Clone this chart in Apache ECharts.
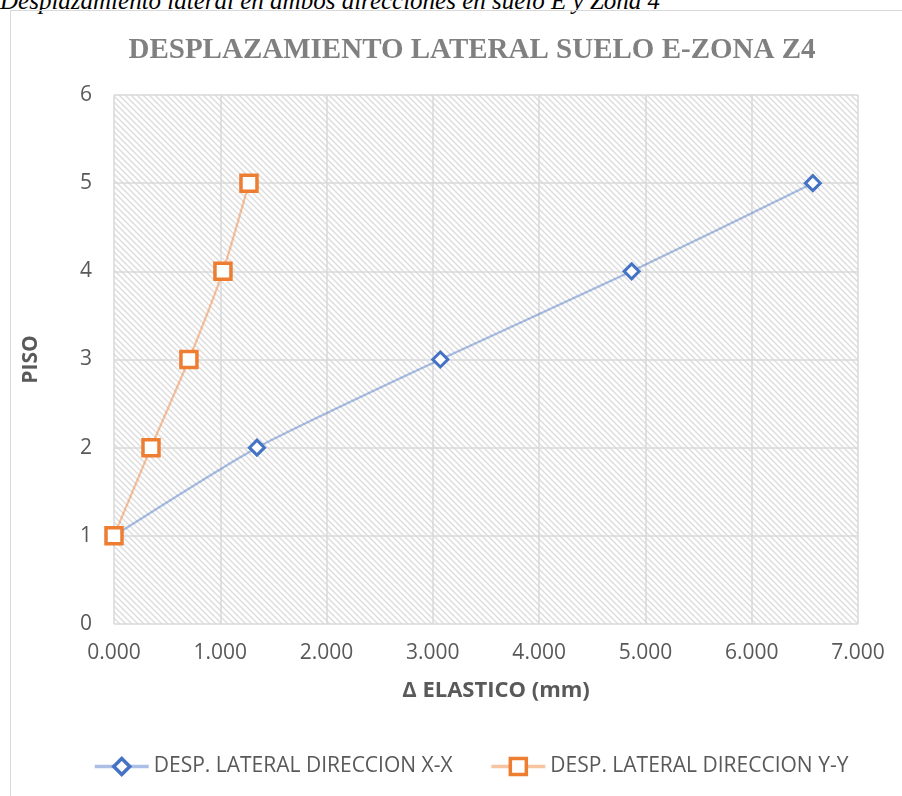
<!DOCTYPE html>
<html>
<head>
<meta charset="utf-8">
<script src="https://cdn.jsdelivr.net/npm/echarts@6/dist/echarts.min.js"></script>
<style>
  html, body { margin: 0; padding: 0; background: #fff; }
  #wrap { position: relative; width: 902px; height: 796px; overflow: hidden; }
  #caption { position: absolute; left: 0; top: -13px; font: italic 25px "Liberation Serif", serif; color: #000; white-space: nowrap; }
  #frame { position: absolute; left: 10px; top: 10px; width: 900px; height: 800px; border: 1px solid #d9d9d9; }
  #chart { position: absolute; left: 0; top: 0; width: 902px; height: 796px; }
</style>
</head>
<body>
<div id="wrap">
  <div id="caption">Desplazamiento lateral en ambos direcciones en suelo E y Zona 4</div>
  <div id="frame"></div>
  <div id="chart"></div>
</div>
<script>
const seriesNames = ['DESP. LATERAL DIRECCION X-X', 'DESP. LATERAL DIRECCION Y-Y']
const pisos = [1, 2, 3, 4, 5]
const despX = [0.000, 1.345, 3.070, 4.870, 6.575]
const despY = [0.000, 0.348, 0.705, 1.025, 1.270]

// diagonal hatch for the plot area
function hatch(){
  let c = document.createElement('canvas')
  c.width = 6; c.height = 6
  let ctx = c.getContext('2d')
  ctx.fillStyle = '#ffffff'
  ctx.fillRect(0, 0, 6, 6)
  ctx.strokeStyle = '#dcdcdc'
  ctx.lineWidth = 1.4
  ctx.beginPath()
  ctx.moveTo(-1, -1); ctx.lineTo(7, 7)
  ctx.moveTo(-4, 2); ctx.lineTo(2, 8)
  ctx.moveTo(2, -4); ctx.lineTo(8, 2)
  ctx.stroke()
  return c
}

const pts = (xs) => xs.map((x, i) => [x, pisos[i]])

let chart = echarts.init(document.getElementById('chart'))
chart.setOption({
  animation: false,
  title: {
    text: 'DESPLAZAMIENTO LATERAL SUELO E-ZONA Z4',
    left: 467, top: 31, textAlign: 'center',
    textStyle: { fontFamily: 'Liberation Serif', fontWeight: 'bold', fontSize: 29, color: '#808080' }
  },
  grid: {
    left: 114, right: 44, top: 95, bottom: 172,
    show: true, borderWidth: 0,
    backgroundColor: { image: hatch(), repeat: 'repeat' }
  },
  xAxis: {
    type: 'value', min: 0, max: 7, interval: 1,
    name: 'Δ ELASTICO (mm)', nameLocation: 'middle', nameGap: 56,
    nameTextStyle: { fontFamily: 'Open Sans', fontWeight: 'bold', fontSize: 22, color: '#595959', padding: [0, 0, 0, 20] },
    axisLine: { show: false }, axisTick: { show: false },
    axisLabel: { formatter: v => v.toFixed(3), fontFamily: 'Open Sans', fontSize: 21, color: '#595959', margin: 19 },
    splitLine: { lineStyle: { color: '#d9d9d9', width: 1.5 } }
  },
  yAxis: {
    type: 'value', min: 0, max: 6, interval: 1,
    name: 'PISO', nameLocation: 'middle', nameGap: 72, nameRotate: 90,
    nameTextStyle: { fontFamily: 'Open Sans', fontWeight: 'bold', fontSize: 21, color: '#595959' },
    axisLine: { show: false }, axisTick: { show: false },
    axisLabel: { fontFamily: 'Open Sans', fontSize: 21, color: '#595959', margin: 22 },
    splitLine: { lineStyle: { color: '#d9d9d9', width: 1.5 } }
  },
  legend: {
    bottom: 14, left: 88, itemGap: 37, itemWidth: 54, itemHeight: 20,
    textStyle: { fontFamily: 'Open Sans', fontSize: 21, color: '#595959' },
    lineStyle: { width: 3.5 },
    itemStyle: { borderWidth: 3.5 },
    data: seriesNames
  },
  series: [
    {
      name: seriesNames[0], type: 'line', smooth: 0.2,
      data: pts(despX),
      symbol: 'diamond', symbolSize: 15,
      lineStyle: { color: 'rgba(68,114,196,0.45)', width: 2.2 },
      itemStyle: { color: '#fff', borderColor: '#4472c4', borderWidth: 3 },
      z: 2
    },
    {
      name: seriesNames[1], type: 'line', smooth: 0.2,
      data: pts(despY),
      symbol: 'rect', symbolSize: 16,
      lineStyle: { color: 'rgba(237,125,49,0.45)', width: 2.2 },
      itemStyle: { color: '#fff', borderColor: '#ed7d31', borderWidth: 3.5 },
      z: 3
    }
  ]
})
window.addEventListener('resize', () => chart.resize())
</script>
</body>
</html>
